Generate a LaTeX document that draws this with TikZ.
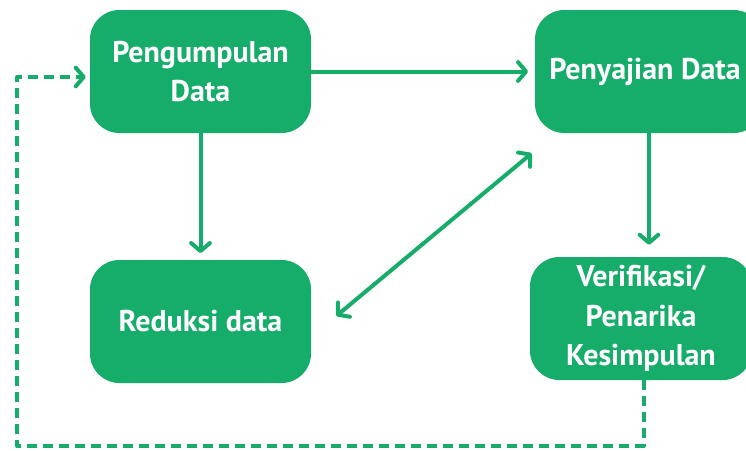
\documentclass[tikz,border=0pt]{standalone}
\usepackage{fontspec}
\setmainfont{PT Sans}
\usetikzlibrary{arrows.meta,calc}
\definecolor{grn}{RGB}{22,172,106}
\tikzset{
  box/.style={draw=none, fill=grn, rounded corners=22pt, text=white,
    font=\bfseries\fontsize{22.5}{29.5}\selectfont, align=center, inner sep=0pt},
  conn/.style={draw=grn, line width=3pt, line cap=round, line join=round,
    -{Straight Barb[length=6pt,width=14pt,line cap=round,line join=round]}},
  dconn/.style={conn, dash pattern=on 7.5pt off 4.5pt, line cap=butt},
}
\begin{document}
\begin{tikzpicture}[x=0.75pt,y=-0.75pt]
\useasboundingbox (0,0) rectangle (746,450);
\clip (0,0) rectangle (746,450);
\node[box, minimum width=165.75pt, minimum height=92.25pt] (b1) at (200.5,71.5) {Pengumpulan\\Data};
\node[box, minimum width=171pt, minimum height=92.25pt] (b2) at (649,71.5) {\hspace*{-6pt}Penyajian Data};
\node[box, minimum width=165.75pt, minimum height=92.25pt] (b3) at (200.5,321.5) {Reduksi data};
\node[box, minimum width=166.5pt, minimum height=92.25pt] (b4) at (641,318.5) {Verifikasi/\\Penarika\\Kesimpulan};
\coordinate (c1) at (17,446);
\draw[conn, shorten >=5pt] (b1.east) -- (b2.west);
\draw[conn, shorten >=5pt] (b1.south) -- (b3.north);
\draw[conn, shorten >=9pt] (b2.south) -- (b2.south |- b4.north);
\draw[conn, {Straight Barb[length=6pt,width=14pt,line cap=round,line join=round]}-{Straight Barb[length=6pt,width=14pt,line cap=round,line join=round]}]
  ([shift={(25,-5.5)}]b3.east) -- ([shift={(-3,20)}]b2.south west);
\draw[dconn, shorten >=3pt] ([xshift=2pt]b4.south) |- (c1) |- ([shift={(0,5.5)}]b1.west);
\end{tikzpicture}
\end{document}
